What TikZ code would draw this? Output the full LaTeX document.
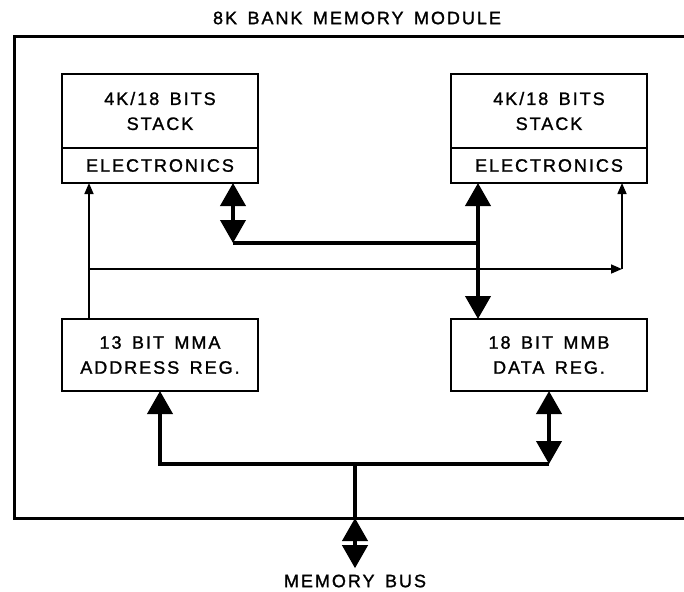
\documentclass[tikz,border=0pt]{standalone}
\usepackage{fontspec}
\setsansfont{Liberation Sans}[LetterSpace=11,WordSpace=1.5,FakeBold=1.3]
\usetikzlibrary{arrows.meta,positioning}

\begin{document}
\begin{tikzpicture}[x=0.5pt,y=-0.5pt,
  blk/.style={draw,line width=1.3pt,minimum width=98pt,align=center,
    font=\sffamily\fontsize{9}{12.5}\selectfont,inner sep=0pt,outer sep=0pt},
  lbl/.style={font=\sffamily\fontsize{9}{12.5}\selectfont,inner sep=3pt},
  frame/.style={line width=1.5pt},
  bus/.style={line width=2pt},
  busto/.style={bus,-{Triangle[length=11.5pt,width=12.5pt]}},
  busboth/.style={bus,{Triangle[length=11.5pt,width=12.5pt]}-{Triangle[length=11.5pt,width=12.5pt]}},
  ctl/.style={line width=0.8pt,-{Triangle[length=5.5pt,width=4.5pt]}}]
  \useasboundingbox (0,0) rectangle (684,591);
  % module frame, open at the right
  \coordinate (fNW) at (14,36);
  \coordinate (fSW) at (14,518);
  \draw[frame] (684,36) -- (fNW) -- (fSW) -- (684,518);
  \node[lbl] (title) at (357,18) {8K BANK MEMORY MODULE};
  % stacks
  \node[blk,minimum height=37pt] (stackL) at (160,111) {4K/18 BITS\\STACK};
  \node[blk,minimum height=37pt,right=96.5pt of stackL] (stackR) {4K/18 BITS\\STACK};
  \node[blk,minimum height=17.5pt,below=0pt of stackL] (elecL) {ELECTRONICS};
  \node[blk,minimum height=17.5pt,below=0pt of stackR] (elecR) {ELECTRONICS};
  % registers
  \node[blk,minimum height=36pt,below=68pt of elecL] (addrL) {13 BIT MMA\\ADDRESS REG.};
  \node[blk,minimum height=36pt,below=68pt of elecR] (dataR) {18 BIT MMB\\DATA REG.};
  \node[lbl] (membus) at (355,581) {MEMORY BUS};
  % control lines
  \coordinate (ctlL) at ([xshift=13.5pt]elecL.south west);
  \coordinate (ctlR) at ([xshift=-12.5pt]elecR.south east);
  \coordinate (ctlJ) at ([yshift=-43pt]ctlL);
  \draw[ctl] (addrL.north -| ctlL) -- (ctlL);
  \draw[ctl] (ctlJ) -- (ctlJ -| ctlR);
  \draw[ctl] (ctlJ -| ctlR) -- (ctlR);
  % data lines
  \coordinate (datL) at ([xshift=-12.5pt]elecL.south east);
  \coordinate (datR) at ([xshift=13.5pt]elecR.south west);
  \coordinate (datJ) at ([yshift=-30pt]datL);
  \draw[busboth] (datJ) -- (datL);
  \draw[bus] (datJ) -- (datJ -| datR);
  \draw[busboth] (dataR.north -| datR) -- (datR);
  % memory bus
  \coordinate (lowJ) at ([yshift=-36.5pt]dataR.south);
  \draw[busboth] (lowJ) -- (dataR.south);
  \draw[busto] (lowJ) -- (lowJ -| addrL.south) -- (addrL.south);
  \draw[bus] (lowJ -| membus) -- (fSW -| membus);
  \draw[busboth] (membus.north) -- (fSW -| membus);
\end{tikzpicture}
\end{document}
